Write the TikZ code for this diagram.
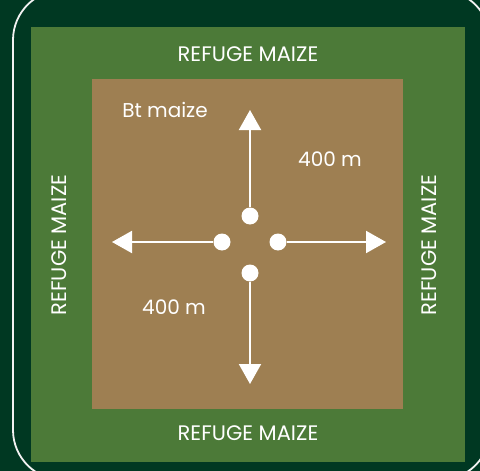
\documentclass[tikz,border=0pt]{standalone}
\usepackage{fontspec}
\setmainfont{Poppins}
\usetikzlibrary{arrows.meta}
\definecolor{fonddark}{RGB}{0,56,34}
\definecolor{refugegreen}{RGB}{76,122,56}
\definecolor{btbrown}{RGB}{158,127,82}
\tikzset{zone/.style={draw=none},
  etiquette/.style={text=white,font=\fontsize{21}{24}\selectfont,inner sep=0pt},
  petit/.style={text=white,font=\fontsize{20}{23}\selectfont,inner sep=0pt},
  point/.style={circle,fill=white,draw=none,minimum size=17pt,inner sep=0pt},
  fleche/.style={draw=white,line width=2pt,-{Triangle[length=20pt,width=22pt]}}}

\begin{document}
\begin{tikzpicture}[x=1pt,y=-1pt]

\useasboundingbox (0,0) rectangle (480,471);
\fill[fonddark] (0,0) rectangle (480,471);
\draw[white!90!gray,line width=1.8pt,rounded corners=50pt] (13,-10) rectangle (490,480);

\fill[refugegreen] (31,27) rectangle (465,462);
\fill[btbrown] (92,79) rectangle (403,409);

\node[etiquette] (refN) at (248,54) {REFUGE MAIZE};
\node[etiquette] (refS) at (248,433) {REFUGE MAIZE};
\node[etiquette,rotate=90] (refW) at (59,245) {REFUGE MAIZE};
\node[etiquette,rotate=90] (refE) at (429,245) {REFUGE MAIZE};

\node[petit] (bt) at (165,110) {Bt maize};
\node[petit] (distNE) at (330,159) {400 m};
\node[petit] (distSW) at (174,307) {400 m};

\node[point] (cN) at (250,216) {};
\node[point] (cS) at (250,273) {};
\node[point] (cW) at (222,242) {};
\node[point] (cE) at (278,242) {};

\coordinate (tipN) at (250,110);
\coordinate (tipS) at (250,384);
\coordinate (tipW) at (112,242);
\coordinate (tipE) at (386,242);

\draw[fleche] (cN) -- (tipN);
\draw[fleche] (cS) -- (tipS);
\draw[fleche] (cW) -- (tipW);
\draw[fleche] (cE) -- (tipE);

\end{tikzpicture}
\end{document}
